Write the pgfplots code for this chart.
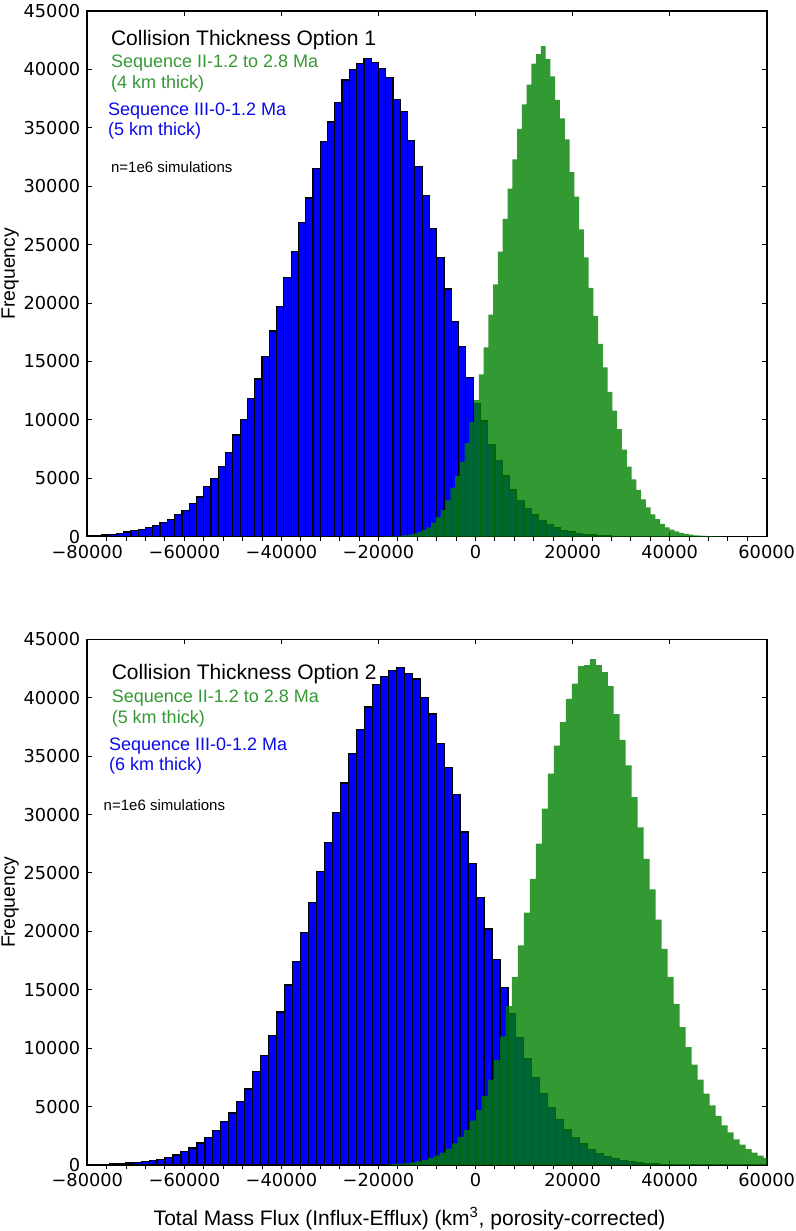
\documentclass[border=0pt]{standalone}
\usepackage{fontspec}
\setmainfont{Liberation Sans}
\newfontfamily\dejavu{DejaVu Sans}
\usepackage{pgfplots}
\pgfplotsset{compat=1.18}
\definecolor{histblue}{RGB}{0,0,255}
\definecolor{histgreen}{RGB}{0,128,0}
\definecolor{txtgreen}{RGB}{51,153,51}
\definecolor{txtblue}{RGB}{10,10,235}

\pgfplotsset{
  histaxis/.style={
    scale only axis, width=339.7pt, height=262.85pt,
    xmin=-80000, xmax=60000, ymin=0, ymax=45000,
    xtick={-80000,-60000,-40000,-20000,0,20000,40000,60000},
    xticklabels={−80000,−60000,−40000,−20000,0,20000,40000,60000},
    ytick={0,5000,10000,15000,20000,25000,30000,35000,40000,45000},
    yticklabels={0,5000,10000,15000,20000,25000,30000,35000,40000,45000},
    scaled ticks=false,
    tick align=inside,
    major tick length=2.5pt,
    axis line style={line width=0.8pt},
    every tick/.style={black, line width=0.5pt},
    ticklabel style={font=\dejavu\fontsize{8.9}{10}\selectfont},
    xticklabel style={yshift=-0.8pt},
    extra x ticks={-76000,-72000,...,56000},
    extra x tick labels={},
    extra x tick style={tick align=outside, major tick length=2pt, xtick pos=left},
    ylabel={Frequency},
    ylabel style={font=\fontsize{9.7}{11}\selectfont, at={(rel axis cs:0,0.5)}, anchor=center, yshift=38.6pt},
    clip=true,
  },
  bluehist/.style={ybar interval, fill=histblue, draw=black, line width=0.6pt},
  greenhist/.style={ybar interval, fill=histgreen, fill opacity=0.8, draw=none},
}

\begin{document}
\begin{tikzpicture}
\useasboundingbox (-43.65pt,-33pt) rectangle (354.35pt,582.5pt);

% ---------------- top panel ----------------
\begin{axis}[histaxis, at={(0pt,314.15pt)}, anchor=south west]
\addplot[bluehist] coordinates {
(-80000,80) (-78500,120) (-77000,150) (-75500,200) (-74000,300) (-72500,400)
(-71000,500) (-69500,600) (-68000,780) (-66500,950) (-65000,1200) (-63500,1450)
(-62000,1880) (-60500,2250) (-59000,2850) (-57500,3400) (-56000,4300) (-54500,5000)
(-53000,6000) (-51500,7200) (-50000,8700) (-48500,10000) (-47000,11800) (-45500,13500)
(-44000,15400) (-42500,17600) (-41000,19700) (-39500,22200) (-38000,24400) (-36500,26900)
(-35000,29000) (-33500,31500) (-32000,33800) (-30500,35500) (-29000,37200) (-27500,39100)
(-26000,40000) (-24500,40500) (-23000,40900) (-21500,40600) (-20000,40100) (-18500,39300)
(-17000,37400) (-15500,36400) (-14000,33900) (-12500,31700) (-11000,29200) (-9500,26400)
(-8000,23900) (-6500,21200) (-5000,18400) (-3500,16300) (-2000,13600) (-500,11400)
(1000,9900) (2500,7900) (4000,6500) (5500,5200) (7000,4000) (8500,3100)
(10000,2400) (11500,1850) (13000,1400) (14500,1050) (16000,750) (17500,550)
(19000,400) (20500,300) (22000,220) (23500,150) (25000,100) (26500,70)
(28000,50) (29500,30) (31000,20) (32500,10) (34000,0)
};
\addplot[greenhist] coordinates {
(-18970,20) (-17987,30) (-17004,50) (-16021,80) (-15038,120) (-14055,180)
(-13072,270) (-12089,390) (-11106,570) (-10123,800) (-9140,1200) (-8157,1650)
(-7174,2300) (-6191,3100) (-5208,4200) (-4225,5200) (-3242,6400) (-2259,8000)
(-1276,9800) (-293,11700) (690,13900) (1673,16200) (2656,19000) (3639,21600)
(4622,24400) (5605,27200) (6588,29800) (7571,32300) (8554,34900) (9537,37000)
(10520,38700) (11503,40500) (12486,41300) (13469,42000) (14452,40900) (15435,39400)
(16418,37400) (17401,35800) (18384,34000) (19367,31200) (20350,29100) (21333,26300)
(22316,23900) (23299,21300) (24282,18900) (25265,16500) (26248,14500) (27231,12400)
(28214,10800) (29197,9200) (30180,7450) (31163,6000) (32146,4900) (33129,4000)
(34112,3200) (35095,2500) (36078,1900) (37061,1500) (38044,1100) (39027,800)
(40010,600) (40993,450) (41976,330) (42959,240) (43942,170) (44925,120)
(45908,90) (46891,60) (47874,40) (48857,30) (49840,20) (50823,10) (51806,0)
};
\node[anchor=base west, font=\fontsize{10.5}{12}\selectfont] at (rel axis cs:0.0246,0.935) {Collision Thickness Option 1};
\node[anchor=base west, font=\fontsize{9}{10}\selectfont, text=txtgreen] at (rel axis cs:0.0246,0.8916) {Sequence II-1.2 to 2.8 Ma};
\node[anchor=base west, font=\fontsize{9}{10}\selectfont, text=txtgreen] at (rel axis cs:0.0246,0.852) {(4 km thick)};
\node[anchor=base west, font=\fontsize{9}{10}\selectfont, text=txtblue] at (rel axis cs:0.0202,0.802) {Sequence III-0-1.2 Ma};
\node[anchor=base west, font=\fontsize{9}{10}\selectfont, text=txtblue] at (rel axis cs:0.0202,0.764) {(5 km thick)};
\node[anchor=base west, font=\fontsize{7.5}{9}\selectfont] at (rel axis cs:0.0246,0.6928) {n=1e6 simulations};
\end{axis}

% ---------------- bottom panel ----------------
\begin{axis}[histaxis, at={(0pt,0pt)}, anchor=south west,
  xlabel={Total Mass Flux (Influx-Efflux) (km\textsuperscript{3}, porosity-corrected)},
  xlabel style={font=\fontsize{10.5}{12}\selectfont, at={(rel axis cs:0.5,0)}, anchor=base, yshift=-30pt, xshift=-8.7pt}]
\addplot[bluehist] coordinates {
(-80407,30) (-78764,50) (-77121,70) (-75478,100) (-73835,130) (-72192,170)
(-70549,220) (-68906,300) (-67263,400) (-65620,500) (-63977,650) (-62334,860)
(-60691,1130) (-59048,1450) (-57405,1880) (-55762,2350) (-54119,2970) (-52476,3700)
(-50833,4450) (-49190,5450) (-47547,6500) (-45904,8000) (-44261,9400) (-42618,11100)
(-40975,13100) (-39332,15400) (-37689,17400) (-36046,19900) (-34403,22500) (-32760,25100)
(-31117,27600) (-29474,30200) (-27831,32700) (-26188,35200) (-24545,37300) (-22902,39200)
(-21259,41100) (-19616,41800) (-17973,42300) (-16330,42600) (-14687,42100) (-13044,41600)
(-11401,40000) (-9758,38600) (-8115,36100) (-6472,34000) (-4829,31700) (-3186,28500)
(-1543,25800) (100,22900) (1743,20200) (3386,17600) (5029,15200) (6672,13000)
(8315,10900) (9958,9100) (11601,7500) (13244,6100) (14887,4900) (16530,3900)
(18173,3000) (19816,2350) (21459,1800) (23102,1350) (24745,1000) (26388,750)
(28031,550) (29674,400) (31317,280) (32960,190) (34603,130) (36246,80)
(37889,50) (39532,30) (41175,20) (42818,0)
};
\addplot[greenhist] coordinates {
(-18450,40) (-17215,70) (-15980,100) (-14745,150) (-13510,220) (-12275,300)
(-11040,420) (-9805,600) (-8570,800) (-7335,1050) (-6100,1400) (-4865,1850)
(-3630,2400) (-2395,3000) (-1160,3800) (75,4700) (1310,5900) (2545,7300)
(3780,9000) (5015,11000) (6250,13600) (7485,16100) (8720,18800) (9955,21600)
(11190,24500) (12425,27500) (13660,30500) (14895,33500) (16130,35900) (17365,37900)
(18600,39900) (19835,41200) (21070,42700) (22305,42800) (23540,43300) (24775,42800)
(26010,42200) (27245,41000) (28480,38600) (29715,36400) (30950,34200) (32185,31500)
(33420,28900) (34655,26200) (35890,23600) (37125,21000) (38360,18500) (39595,16100)
(40830,13800) (42065,11800) (43300,10100) (44535,8600) (45770,7300) (47005,6100)
(48240,5100) (49475,4200) (50710,3400) (51945,2800) (53180,2200) (54415,1750)
(55650,1350) (56885,1050) (58120,800) (59355,600) (60590,450) (61825,0)
};
\node[anchor=base west, font=\fontsize{10.5}{12}\selectfont] at (rel axis cs:0.0256,0.9227) {Collision Thickness Option 2};
\node[anchor=base west, font=\fontsize{9}{10}\selectfont, text=txtgreen] at (rel axis cs:0.0256,0.8796) {Sequence II-1.2 to 2.8 Ma};
\node[anchor=base west, font=\fontsize{9}{10}\selectfont, text=txtgreen] at (rel axis cs:0.0256,0.8398) {(5 km thick)};
\node[anchor=base west, font=\fontsize{9}{10}\selectfont, text=txtblue] at (rel axis cs:0.0216,0.7893) {Sequence III-0-1.2 Ma};
\node[anchor=base west, font=\fontsize{9}{10}\selectfont, text=txtblue] at (rel axis cs:0.0216,0.750) {(6 km thick)};
\node[anchor=base west, font=\fontsize{7.5}{9}\selectfont] at (rel axis cs:0.0138,0.674) {n=1e6 simulations};
\end{axis}
\end{tikzpicture}
\end{document}
